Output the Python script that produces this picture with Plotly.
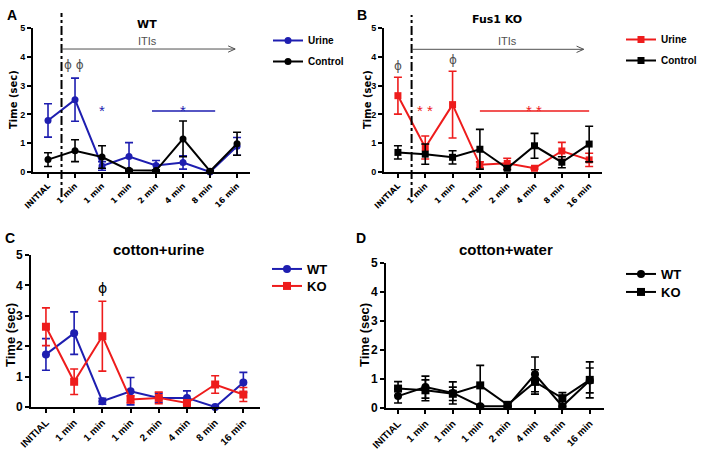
import plotly.graph_objects as go

categories = ["INITIAL", "1 min", "1 min", "1 min", "2 min", "4 min", "8 min", "16 min"]
x_idx = list(range(len(categories)))

# Panel A: WT
a_urine_mean = [1.79, 2.51, 0.21, 0.54, 0.23, 0.33, 0.0, 0.89]
a_urine_sem = [0.58, 0.75, 0.15, 0.48, 0.17, 0.23, 0.02, 0.31]
a_control_mean = [0.43, 0.74, 0.52, 0.06, 0.05, 1.15, 0.03, 0.98]
a_control_sem = [0.24, 0.38, 0.39, 0.03, 0.03, 0.62, 0.03, 0.40]

# Panel B: Fus1 KO
b_urine_mean = [2.65, 0.85, 2.34, 0.25, 0.30, 0.13, 0.73, 0.42]
b_urine_sem = [0.64, 0.40, 1.16, 0.10, 0.18, 0.03, 0.30, 0.23]
b_control_mean = [0.68, 0.62, 0.51, 0.79, 0.13, 0.91, 0.34, 0.97]
b_control_sem = [0.23, 0.35, 0.23, 0.69, 0.05, 0.43, 0.19, 0.62]

# Panel C: cotton+urine
c_wt_mean = [1.73, 2.43, 0.19, 0.52, 0.30, 0.30, 0.0, 0.81]
c_wt_sem = [0.52, 0.70, 0.10, 0.45, 0.15, 0.23, 0.02, 0.33]
c_ko_mean = [2.64, 0.83, 2.33, 0.25, 0.30, 0.13, 0.74, 0.41]
c_ko_sem = [0.62, 0.42, 1.15, 0.12, 0.19, 0.05, 0.29, 0.23]

# Panel D: cotton+water
d_wt_mean = [0.41, 0.72, 0.52, 0.06, 0.06, 1.16, 0.06, 0.95]
d_wt_sem = [0.24, 0.38, 0.38, 0.03, 0.03, 0.60, 0.03, 0.43]
d_ko_mean = [0.67, 0.61, 0.49, 0.78, 0.11, 0.90, 0.34, 0.97]
d_ko_sem = [0.24, 0.36, 0.23, 0.69, 0.05, 0.42, 0.19, 0.62]

BLUE = "#1e1eb0"
RED = "#ee1c1c"
BLACK = "#000000"
GRAY = "#505050"
FONT = "Liberation Sans"
WIDE = "DejaVu Sans"

W, H = 708, 450
fig = go.Figure()
legends = {}


def add_series(mean, sem, name, color, symbol, size, xa, ya, legend, lx, ly, lsize):
    fig.add_trace(go.Scatter(
        x=x_idx, y=mean, name=name, mode="lines+markers",
        line=dict(color=color, width=2),
        marker=dict(color=color, symbol=symbol, size=size),
        error_y=dict(type="data", array=sem, visible=True, color=color,
                     thickness=1.6, width=4),
        xaxis=xa, yaxis=ya, legend=legend, cliponaxis=False,
    ))
    # legend text starts ~40px right of legend x; row centre ~14px below its top
    legends[legend] = dict(x=(lx - 40) / W, y=1 - (ly - 14) / H, xanchor="left", yanchor="top",
                           bgcolor="rgba(0,0,0,0)", borderwidth=0,
                           font=dict(family=FONT, size=lsize, color="black", weight="bold"))


add_series(a_urine_mean, a_urine_sem, "Urine", BLUE, "circle", 7, "x", "y", "legend", 308, 40, 10)
add_series(a_control_mean, a_control_sem, "Control", BLACK, "circle", 7, "x", "y", "legend2", 308, 61, 10)
add_series(b_urine_mean, b_urine_sem, "Urine", RED, "square", 7, "x2", "y2", "legend3", 661, 39, 10)
add_series(b_control_mean, b_control_sem, "Control", BLACK, "square", 7, "x2", "y2", "legend4", 661, 60, 10)
add_series(c_wt_mean, c_wt_sem, "WT", BLUE, "circle", 8, "x3", "y3", "legend5", 307, 268, 13)
add_series(c_ko_mean, c_ko_sem, "KO", RED, "square", 8, "x3", "y3", "legend6", 307, 285, 13)
add_series(d_wt_mean, d_wt_sem, "WT", BLACK, "circle", 8, "x4", "y4", "legend7", 661, 273, 13)
add_series(d_ko_mean, d_ko_sem, "KO", BLACK, "square", 8, "x4", "y4", "legend8", 661, 291, 13)


def xaxis(domain, rng, anchor, family, fsize):
    return dict(domain=domain, range=rng, anchor=anchor, tickmode="array",
                tickvals=x_idx, ticktext=categories, tickangle=-45, automargin=False,
                showline=True, linewidth=2, linecolor="black", ticks="outside",
                ticklen=4, tickwidth=1.5, tickcolor="black", showgrid=False,
                zeroline=False, tickfont=dict(family=family, size=fsize, color="black", weight="bold"))


def yaxis(domain, anchor, fsize):
    return dict(domain=domain, range=[0, 5], anchor=anchor, dtick=1, automargin=False,
                showline=True, linewidth=2, linecolor="black", ticks="outside",
                ticklen=4, tickwidth=1.5, tickcolor="black", showgrid=False,
                zeroline=False, tickfont=dict(family=FONT, size=fsize, color="black", weight="bold"))


fig.update_layout(
    width=W, height=H, margin=dict(l=0, r=0, t=0, b=0, autoexpand=False),
    plot_bgcolor="white", paper_bgcolor="white", showlegend=True,
    xaxis=xaxis([33 / W, 250 / W], [-0.556, 7.48], "y", WIDE, 8),
    yaxis=yaxis([1 - 172 / H, 1 - 28 / H], "x", 9),
    xaxis2=xaxis([384 / W, 602 / W], [-0.51, 7.47], "y2", WIDE, 8),
    yaxis2=yaxis([1 - 172 / H, 1 - 28 / H], "x2", 9),
    xaxis3=xaxis([31 / W, 260 / W], [-0.53, 7.59], "y3", FONT, 10),
    yaxis3=yaxis([1 - 407 / H, 1 - 255 / H], "x3", 12),
    xaxis4=xaxis([386 / W, 604 / W], [-0.44, 7.52], "y4", FONT, 10),
    yaxis4=yaxis([1 - 408 / H, 1 - 263 / H], "x4", 12),
    **legends,
)

shapes = []
annotations = []

# dash-dot separators (A, B)
for xr, y0, y1 in [("x", 1 - 197 / H, 1 - 13 / H), ("x2", 1 - 197 / H, 1 - 15 / H)]:
    shapes.append(dict(type="line", xref=xr, yref="paper", x0=0.5, x1=0.5, y0=y0, y1=y1,
                       line=dict(color="black", width=2, dash="dashdot")))

# ITIs arrows
for xr, yr, x0, x1, yv, tx in [("x", "y", 0.5, 6.93, 4.27, 3.7), ("x2", "y2", 0.51, 6.8, 4.26, 4.0)]:
    shapes.append(dict(type="line", xref=xr, yref=yr, x0=x0, x1=x1, y0=yv, y1=yv,
                       line=dict(color=GRAY, width=1)))
    shapes.append(dict(type="path", xref=xr, yref=yr,
                       path=f"M {x1 - 0.26},{yv + 0.11} L {x1},{yv} L {x1 - 0.26},{yv - 0.11}",
                       line=dict(color=GRAY, width=1)))
    annotations.append(dict(xref=xr, yref=yr, x=tx, y=yv, text="ITIs", showarrow=False,
                            yanchor="bottom", font=dict(family=FONT, size=11, color=GRAY)))

# significance bars
shapes.append(dict(type="line", xref="x", yref="y", x0=3.85, x1=6.19, y0=2.12, y1=2.12,
                   line=dict(color=BLUE, width=1.5)))
shapes.append(dict(type="line", xref="x2", yref="y2", x0=3.0, x1=7.0, y0=2.12, y1=2.12,
                   line=dict(color=RED, width=1.5)))


def note(xr, yr, x, y, text, color, size, family=FONT):
    annotations.append(dict(xref=xr, yref=yr, x=x, y=y, text=text, showarrow=False,
                            font=dict(family=family, size=size, color=color)))


note("x", "y", 0.96, 3.72, "ϕ ϕ", GRAY, 12, WIDE)
note("x", "y", 2.0, 2.15, "*", BLUE, 15)
note("x", "y", 5.0, 2.15, "*", BLUE, 15)
note("x2", "y2", 0.0, 3.68, "ϕ", GRAY, 12, WIDE)
note("x2", "y2", 2.0, 3.89, "ϕ", GRAY, 12, WIDE)
note("x2", "y2", 1.0, 2.12, "* *", RED, 15)
note("x2", "y2", 4.98, 2.12, "* *", RED, 15)
note("x3", "y3", 2.0, 3.9, "ϕ", BLACK, 14, WIDE)


def ptext(x, y, text, size, family=FONT, angle=0):
    annotations.append(dict(xref="paper", yref="paper", x=x / W, y=1 - y / H, text=text,
                            showarrow=False, xanchor="center", yanchor="middle", textangle=angle,
                            font=dict(family=family, size=size, color="black", weight="bold")))


ptext(147, 24, "WT", 11, WIDE)
ptext(497, 19, "Fus1 KO", 11, WIDE)
ptext(158, 249, "cotton+urine", 15)
ptext(506, 249, "cotton+water", 15)
ptext(12, 15, "A", 14)
ptext(362, 15, "B", 14)
ptext(10, 238, "C", 14)
ptext(361, 238, "D", 14)
# y-axis titles
ptext(13, 100, "Time (sec)", 10, WIDE, -90)
ptext(367, 100, "Time (sec)", 10, WIDE, -90)
ptext(10, 335, "Time (sec)", 13, FONT, -90)
ptext(364, 335, "Time (sec)", 13, FONT, -90)

fig.update_layout(shapes=shapes, annotations=annotations)
fig.write_html("out.html", config={"displayModeBar": False},
               post_script="document.body.style.margin='0';document.body.style.overflow='hidden';")
